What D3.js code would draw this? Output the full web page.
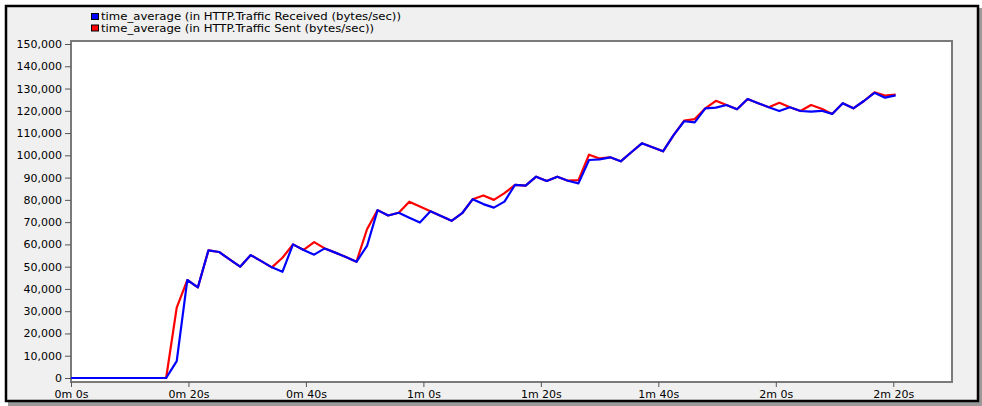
<!DOCTYPE html>
<html>
<head>
<meta charset="utf-8">
<script src="https://cdn.jsdelivr.net/npm/d3@7"></script>
<style>
  html, body { margin: 0; padding: 0; background: #ffffff; }
  svg { display: block; }
  text { font-family: "DejaVu Sans", sans-serif; fill: #000; }
</style>
</head>
<body>
<svg id="chart" width="982" height="406"></svg>
<script>
// Sample times in seconds
const times = [0, 1.8, 3.6, 5.4, 7.2, 9, 10.8, 12.6, 14.4, 16.2, 18, 19.8, 21.6, 23.4, 25.2, 27,
  28.8, 30.6, 32.4, 34.2, 36, 37.8, 39.6, 41.4, 43.2, 45, 46.8, 48.6, 50.4, 52.2, 54, 55.8,
  57.6, 59.4, 61.2, 63, 64.8, 66.6, 68.4, 70.2, 72, 73.8, 75.6, 77.4, 79.2, 81, 82.8, 84.6,
  86.4, 88.2, 90, 91.8, 93.6, 95.4, 97.2, 99, 100.8, 102.6, 104.4, 106.2, 108, 109.8, 111.6,
  113.4, 115.2, 117, 118.8, 120.6, 122.4, 124.2, 126, 127.8, 129.6, 131.4, 133.2, 135, 136.8,
  138.6, 140.4];

// time_average of HTTP traffic received (bytes/sec)
const received = [0, 0, 0, 0, 0, 0, 0, 0, 0, 0, 7600, 44000, 40700, 57300, 56600, 53300,
  50000, 55200, 52500, 49700, 47700, 60000, 57500, 55400, 58200, 56300, 54300, 52200, 59300,
  75400, 73000, 74200, 72000, 69800, 74900, 72800, 70600, 74000, 80300, 78100, 76500, 79200,
  86700, 86400, 90400, 88500, 90400, 88600, 87400, 97900, 98200, 99100, 97300, 101400,
  105400, 103600, 101800, 109100, 115300, 114800, 121100, 121400, 122600, 120700, 125300,
  123400, 121600, 119900, 121600, 119900, 119600, 120000, 118600, 123400, 121100, 124400,
  128100, 125900, 126900];

// time_average of HTTP traffic sent (bytes/sec)
const sent = [0, 0, 0, 0, 0, 0, 0, 0, 0, 0, 31600, 44000, 40700, 57300, 56600, 53300,
  50000, 55200, 52500, 49700, 54000, 60000, 57500, 61000, 58200, 56300, 54300, 52200, 66800,
  75400, 73000, 74200, 79200, 77000, 74900, 72800, 70600, 74000, 80300, 82000, 80000, 83000,
  86700, 86400, 90400, 88500, 90400, 88600, 88900, 100300, 98600, 99100, 97300, 101400,
  105400, 103600, 101800, 109100, 115600, 116300, 121100, 124500, 122600, 120700, 125300,
  123400, 121600, 123600, 121600, 119900, 122600, 120900, 118600, 123400, 121100, 124400,
  128300, 126800, 127300];

const seriesNames = [
  "time_average (in HTTP.Traffic Received (bytes/sec))",
  "time_average (in HTTP.Traffic Sent (bytes/sec))"
];
const seriesColors = ["#0000ff", "#ff0000"];

const xTicks = [0, 20, 40, 60, 80, 100, 120, 140];
const yTicks = [0, 10000, 20000, 30000, 40000, 50000, 60000, 70000, 80000, 90000,
  100000, 110000, 120000, 130000, 140000, 150000];

const svg = d3.select("#chart");

// window panel with dark border and a soft shadow underneath
svg.append("rect").attr("x", 8).attr("y", 8).attr("width", 974).attr("height", 398)
  .attr("fill", "#9a9a9a");
svg.append("rect").attr("x", 6).attr("y", 6).attr("width", 972).attr("height", 395)
  .attr("fill", "#f0f0f0").attr("stroke", "#000").attr("stroke-width", 2.5);

const frame = { left: 71, right: 952, top: 41, bottom: 382 };
const x = d3.scaleLinear().domain([0, 150]).range([frame.left, frame.right]);
const y = d3.scaleLinear().domain([0, 150000]).range([378, 44]);

// plot area
svg.append("rect")
  .attr("x", frame.left).attr("y", frame.top)
  .attr("width", frame.right - frame.left).attr("height", frame.bottom - frame.top)
  .attr("fill", "#ffffff").attr("stroke", "#7a7a7a").attr("stroke-width", 2);

// y axis
const yAxis = svg.append("g")
  .attr("transform", `translate(${frame.left},0)`)
  .call(d3.axisLeft(y).tickValues(yTicks).tickSize(6).tickPadding(3)
    .tickFormat(d3.format(",")));
yAxis.select(".domain").remove();
yAxis.selectAll(".tick line").attr("stroke", "#555");
yAxis.selectAll("text").attr("font-size", 11).attr("font-family", "DejaVu Sans");

// x axis
const xAxis = svg.append("g")
  .attr("transform", `translate(0,${frame.bottom})`)
  .call(d3.axisBottom(x).tickValues(xTicks).tickSize(5).tickPadding(3)
    .tickFormat(t => `${Math.floor(t / 60)}m ${t % 60}s`));
xAxis.select(".domain").remove();
xAxis.selectAll(".tick line").attr("stroke", "#555");
xAxis.selectAll("text").attr("font-size", 11).attr("font-family", "DejaVu Sans");

// series lines: sent first, received on top
const line = d3.line().x((d, i) => x(times[i])).y(d => y(d));
svg.append("path").datum(sent)
  .attr("d", line).attr("fill", "none")
  .attr("stroke", seriesColors[1]).attr("stroke-width", 2.2).attr("stroke-linejoin", "round");
svg.append("path").datum(received)
  .attr("d", line).attr("fill", "none")
  .attr("stroke", seriesColors[0]).attr("stroke-width", 2.2).attr("stroke-linejoin", "round");

// legend
const legendWidths = [300, 273];
const legend = svg.append("g").attr("transform", "translate(91,12)");
seriesNames.forEach((name, i) => {
  const g = legend.append("g").attr("transform", `translate(0,${i * 11.5})`);
  g.append("rect").attr("x", 0.5).attr("y", 1.5).attr("width", 7).attr("height", 6)
    .attr("fill", seriesColors[i]).attr("stroke", "#000").attr("stroke-width", 1);
  g.append("text").attr("x", 10).attr("y", 8).attr("font-size", 10.5)
    .attr("textLength", legendWidths[i]).attr("lengthAdjust", "spacingAndGlyphs")
    .text(name);
});
</script>
</body>
</html>
